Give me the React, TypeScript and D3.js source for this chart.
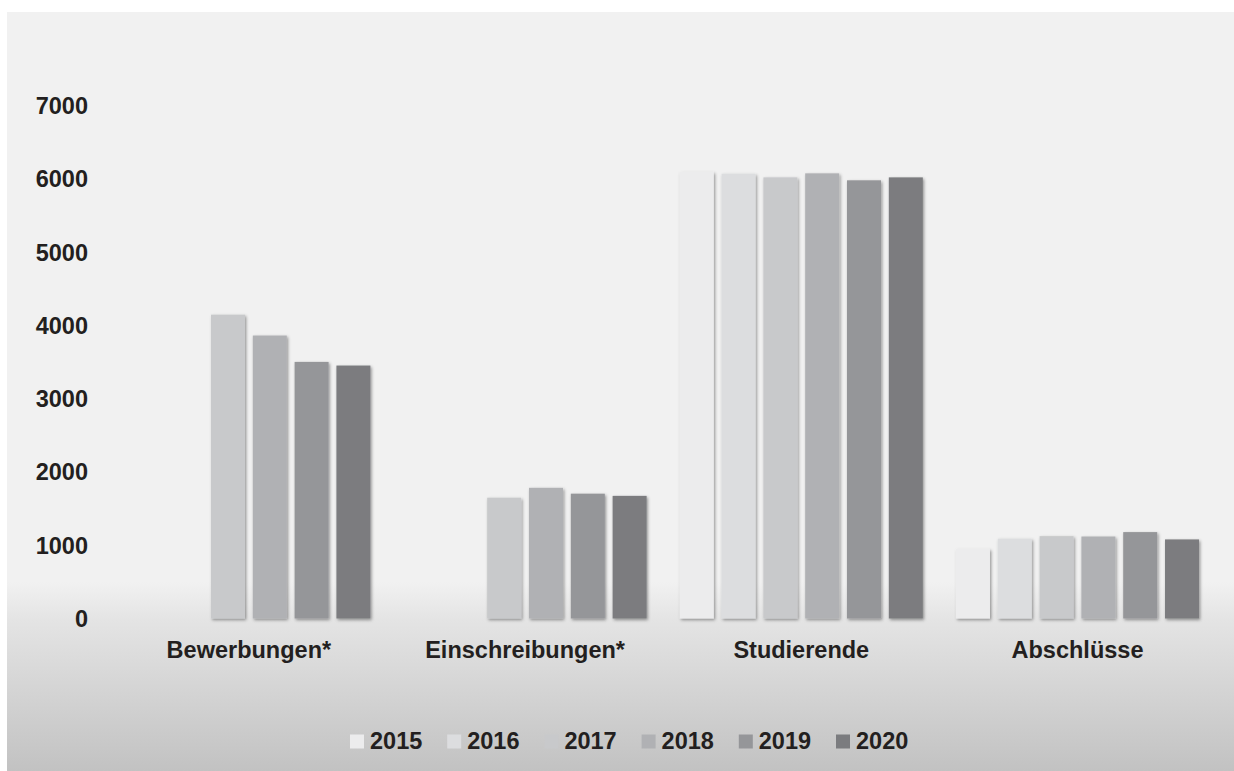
import React from "react";
import * as d3 from "d3";

const categories = ["Bewerbungen*", "Einschreibungen*", "Studierende", "Abschlüsse"];
const years = ["2015", "2016", "2017", "2018", "2019", "2020"];
const values2015: (number | null)[] = [null, null, 6100, 950];
const values2016: (number | null)[] = [null, null, 6075, 1090];
const values2017: (number | null)[] = [4150, 1650, 6025, 1125];
const values2018: (number | null)[] = [3865, 1785, 6080, 1120];
const values2019: (number | null)[] = [3505, 1705, 5985, 1180];
const values2020: (number | null)[] = [3455, 1675, 6025, 1080];
const yTicks = [0, 1000, 2000, 3000, 4000, 5000, 6000, 7000];
const colors = ["#ececed", "#dcdddf", "#c8c9cb", "#b0b1b4", "#959699", "#7b7c7f"];

const series = [values2015, values2016, values2017, values2018, values2019, values2020];

const W = 1234;
const H = 771;
const FONT = "'Liberation Sans', Arial, sans-serif";
const TEXT = "#231f20";
const FS = 23.5;

export default function App() {
  const y = d3.scaleLinear().domain([0, 7000]).range([618.5, 106]);
  const x0 = d3.scaleBand<string>().domain(categories).range([110.8, 1215.6]).paddingInner(0.12).paddingOuter(0.06);
  const x1 = d3.scaleBand<string>().domain(years).range([0, x0.bandwidth()]).paddingInner(0.1866).paddingOuter(0);
  const legendX = d3.scalePoint<string>().domain(years).range([350, 836]);

  return (
    <svg width={W} height={H} style={{ position: "absolute", left: 0, top: 0 }} fontFamily={FONT}>
      <defs>
        <linearGradient id="bg" x1="0" y1="12" x2="0" y2={H} gradientUnits="userSpaceOnUse">
          <stop offset="0" stopColor="#f1f1f1" />
          <stop offset={(582 - 12) / (H - 12)} stopColor="#f1f1f1" />
          <stop offset={(620 - 12) / (H - 12)} stopColor="#e4e4e4" />
          <stop offset="1" stopColor="#c2c2c2" />
        </linearGradient>
        <filter id="sh" x="-30%" y="-10%" width="160%" height="120%">
          <feDropShadow dx="1.2" dy="1.5" stdDeviation="1.4" floodColor="#000" floodOpacity="0.4" />
        </filter>
      </defs>
      <rect x={7} y={12} width={W - 7} height={H - 12} fill="url(#bg)" />

      {yTicks.map((t) => (
        <text key={t} x={88} y={y(t)} dy="0.35em" textAnchor="end" fontSize={FS} fontWeight={700} fill={TEXT}>
          {t}
        </text>
      ))}

      {categories.map((c, ci) => (
        <g key={c} transform={`translate(${x0(c)},0)`}>
          {years.map((yr, yi) => {
            const v = series[yi][ci];
            if (v == null) return null;
            return (
              <rect
                key={yr}
                x={x1(yr)}
                y={y(v)}
                width={x1.bandwidth()}
                height={y(0) - y(v)}
                fill={colors[yi]}
                filter="url(#sh)"
              />
            );
          })}
          <text x={x0.bandwidth() / 2} y={658} textAnchor="middle" fontSize={FS} fontWeight={700} fill={TEXT}>
            {c}
          </text>
        </g>
      ))}

      {years.map((yr, yi) => (
        <g key={yr} transform={`translate(${legendX(yr)},0)`}>
          <rect x={0} y={734.5} width={14} height={14} fill={colors[yi]} />
          <text x={20} y={748.5} fontSize={FS} fontWeight={700} fill={TEXT}>
            {yr}
          </text>
        </g>
      ))}
    </svg>
  );
}
